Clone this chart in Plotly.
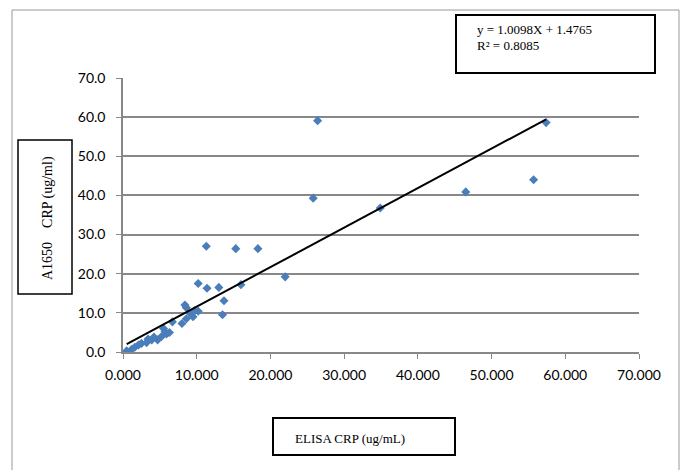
import plotly.graph_objects as go
import numpy as np

elisa = [0.5, 1.2, 1.6, 2.1, 2.5, 3.2, 3.4, 3.9, 4.2, 4.7, 5.2, 5.5, 5.7, 5.9, 6.3,
         6.7, 8.0, 8.4, 8.6, 8.6, 9.2, 9.5, 9.7, 10.2, 10.2, 11.3, 11.4, 13.0, 13.5,
         13.7, 15.3, 16.0, 18.3, 22.0, 25.8, 26.4, 34.9, 46.5, 55.7, 57.4]
a1650 = [0.3, 0.7, 1.2, 1.8, 2.2, 2.4, 3.3, 3.1, 3.8, 3.1, 3.9, 6.0, 5.2, 4.6, 5.0,
         7.7, 7.3, 12.0, 11.3, 8.5, 9.7, 9.0, 10.5, 10.4, 17.5, 27.0, 16.3, 16.5, 9.5,
         13.1, 26.4, 17.2, 26.4, 19.2, 39.3, 59.1, 36.8, 40.9, 44.0, 58.6]
slope = 1.0098
intercept = 1.4765
r2 = 0.8085
x_ticks = [0, 10, 20, 30, 40, 50, 60, 70]
y_ticks = [0, 10, 20, 30, 40, 50, 60, 70]

OFF = 8  # page body margin
W, H = 693 - OFF, 470 - OFF
L, R, T, B = 123, 639, 78, 352


def px(x):
    return (x - L) / (R - L)


def py(y):
    return (B - y) / (B - T)


SERIF = "Liberation Serif"
SANS = "Lato"

fig = go.Figure()
fig.add_trace(go.Scatter(x=elisa, y=a1650, mode="markers",
                         marker=dict(symbol="diamond", size=7, color="#4a7ebb"),
                         showlegend=False))
xl = np.array([min(elisa), max(elisa)])
fig.add_trace(go.Scatter(x=xl, y=slope * xl + intercept, mode="lines",
                         line=dict(color="black", width=2), showlegend=False))

fig.update_layout(
    width=W, height=H,
    margin=dict(l=L - OFF, r=693 - R, t=T - OFF, b=470 - B),
    paper_bgcolor="white", plot_bgcolor="white",
    font=dict(family=SANS, size=14, color="black"),
    xaxis=dict(range=[0, 70], tickvals=x_ticks,
               ticktext=[f"{v:.3f}" for v in x_ticks],
               showgrid=False, zeroline=False, showline=True, linecolor="#888888",
               linewidth=1.5, ticks="outside", ticklen=5, tickcolor="#888888",
               ticklabelstandoff=4),
    yaxis=dict(range=[0, 70], tickvals=y_ticks,
               ticktext=[f"{v:.1f}" for v in y_ticks],
               showgrid=True, gridcolor="#888888", gridwidth=1.5,
               zeroline=False, showline=True, linecolor="#888888",
               linewidth=1.5, ticks="outside", ticklen=5, tickcolor="#888888",
               ticklabelstandoff=8),
)

shapes = [
    dict(type="rect", xref="paper", yref="paper",
         x0=px(12), x1=px(679), y0=py(476), y1=py(10),
         line=dict(color="#999999", width=1)),
    dict(type="rect", xref="paper", yref="paper",
         x0=px(456), x1=px(655), y0=py(73), y1=py(15),
         line=dict(color="black", width=2)),
    dict(type="rect", xref="paper", yref="paper",
         x0=px(18), x1=px(72), y0=py(294), y1=py(140),
         line=dict(color="black", width=1.5)),
    dict(type="rect", xref="paper", yref="paper",
         x0=px(273), x1=px(455), y0=py(455), y1=py(418),
         line=dict(color="black", width=2)),
]
fig.update_layout(shapes=shapes)

fig.add_annotation(xref="paper", yref="paper", x=px(475), y=py(29),
                   xanchor="left", yanchor="middle", showarrow=False,
                   text=f"y = {slope:.4f}X + {intercept:.4f}",
                   font=dict(family=SERIF, size=13))
fig.add_annotation(xref="paper", yref="paper", x=px(475), y=py(46),
                   xanchor="left", yanchor="middle", showarrow=False,
                   text=f"R² = {r2:.4f}",
                   font=dict(family=SERIF, size=13))
fig.add_annotation(xref="paper", yref="paper", x=px(48), y=py(218),
                   xanchor="center", yanchor="middle", showarrow=False,
                   textangle=-90,
                   text="A1650\u00a0\u00a0\u00a0\u00a0CRP (ug/ml)",
                   font=dict(family=SERIF, size=14))
fig.add_annotation(xref="paper", yref="paper", x=px(293), y=py(438),
                   xanchor="left", yanchor="middle", showarrow=False,
                   text="ELISA CRP (ug/mL)",
                   font=dict(family=SERIF, size=13))

fig.write_html("out.html")
